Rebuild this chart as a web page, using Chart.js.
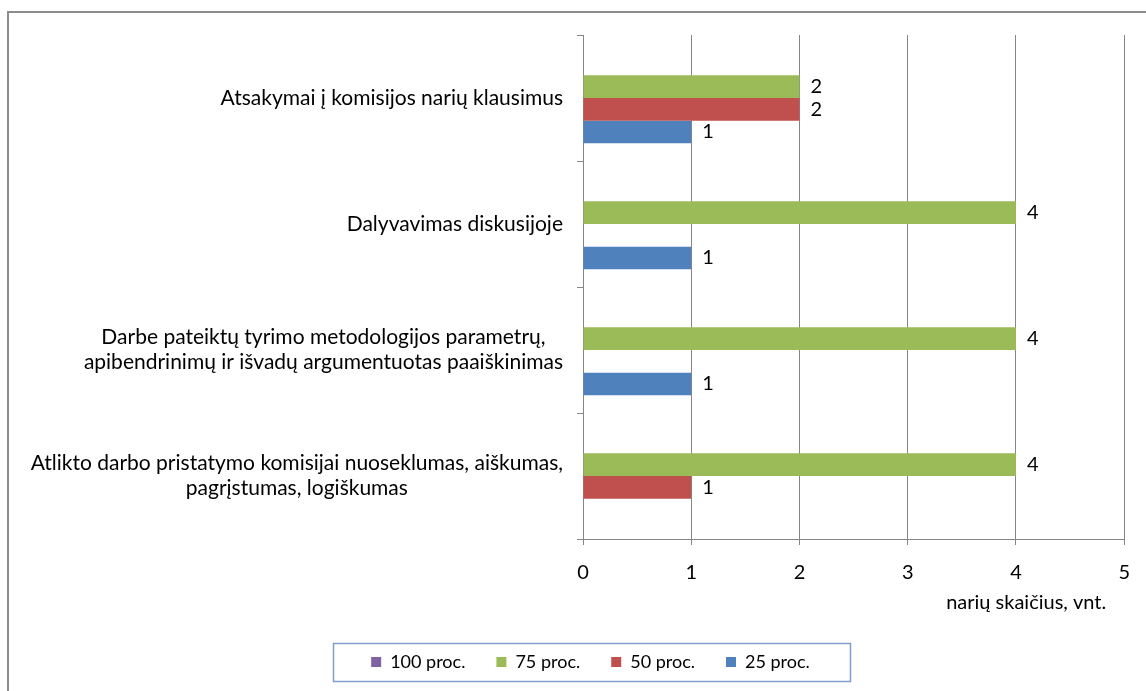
<!DOCTYPE html>
<html>
<head>
<meta charset="utf-8">
<script src="https://cdn.jsdelivr.net/npm/chart.js@4.4.0/dist/chart.umd.min.js"></script>
<style>
    html, body { margin: 0; padding: 0; background: #fff; overflow: hidden; }
    #wrap { position: relative; width: 1146px; height: 691px; }
    #remelis { position: absolute; left: 7px; top: 11px; width: 1300px; height: 900px; border-left: 2px solid #8c8c8c; border-top: 2px solid #8c8c8c; }
    canvas { position: absolute; left: 0; top: 0; }
</style>
</head>
<body>
<div id="wrap">
    <div id="remelis"></div>
    <canvas id="grafikas" width="1146" height="691"></canvas>
</div>
<script>
// Duomenys
const kategorijos = [
    ['Atsakymai į komisijos narių klausimus'],
    ['Dalyvavimas diskusijoje'],
    ['Darbe pateiktų tyrimo metodologijos parametrų,', 'apibendrinimų ir išvadų argumentuotas paaiškinimas'],
    ['Atlikto darbo pristatymo komisijai nuoseklumas, aiškumas,', 'pagrįstumas, logiškumas']
];
const proc100 = [null, null, null, null];
const proc75 = [2, 4, 4, 4];
const proc50 = [2, null, null, 1];
const proc25 = [1, 1, 1, null];
const serijuPavadinimai = ['100 proc.', '75 proc.', '50 proc.', '25 proc.'];
const asiesPavadinimas = 'narių skaičius, vnt.';

const SRIFTAS = 'Lato, "Open Sans", sans-serif';
const DYDIS = 20;
const spalvos = ['#8064A2', '#9BBB59', '#C0504D', '#4F81BD'];
const tinklelis = '#868686';

// Kategoriju pavadinimai (eilutes centruotos tarpusavyje, blokas lygiuotas desineje)
const kategorijuZymes = {
    id: 'kategorijuZymes',
    afterDraw(chart) {
        const ctx = chart.ctx;
        const y = chart.scales.y;
        ctx.save();
        ctx.font = '21px ' + SRIFTAS;
        ctx.fillStyle = '#000';
        ctx.textBaseline = 'middle';
        ctx.textAlign = 'center';
        const desine = chart.chartArea.left - 20;
        kategorijos.forEach((eil, i) => {
            const plotis = Math.max(...eil.map(t => ctx.measureText(t).width));
            const cx = desine - plotis / 2;
            const cy = y.getPixelForValue(i);
            eil.forEach((t, j) => ctx.fillText(t, cx, cy + (j - (eil.length - 1) / 2) * 25));
        });

        // asies pavadinimas
        ctx.font = DYDIS + 'px ' + SRIFTAS;
        ctx.textAlign = 'right';
        ctx.fillText(asiesPavadinimas, chart.chartArea.right - 18, chart.chartArea.bottom + 64);
        ctx.restore();
    }
};

// Reiksmes prie stulpeliu
const reiksmes = {
    id: 'reiksmes',
    afterDatasetsDraw(chart) {
        const ctx = chart.ctx;
        ctx.save();
        ctx.font = DYDIS + 'px ' + SRIFTAS;
        ctx.fillStyle = '#000';
        ctx.textBaseline = 'middle';
        ctx.textAlign = 'left';
        chart.data.datasets.forEach((ds, i) => {
            const meta = chart.getDatasetMeta(i);
            meta.data.forEach((bar, j) => {
                const v = ds.data[j];
                if (v == null) return;
                ctx.fillText(v, bar.x + 11, bar.y);
            });
        });
        ctx.restore();
    }
};

// Legendos remelis + poslinkis i desine
const legendosRemelis = {
    id: 'legendosRemelis',
    afterLayout(chart) {
        if (!chart.legend) return;
        chart.legend.left += 48;
        chart.legend.right += 0;
    },
    afterDraw(chart) {
        const lg = chart.legend;
        if (!lg || !lg.legendHitBoxes.length) return;
        const hb = lg.legendHitBoxes;
        const kaire = Math.min(...hb.map(h => h.left)) - 38;
        const desine = Math.max(...hb.map(h => h.left + h.width)) + 40;
        const cy = hb[0].top + hb[0].height / 2;
        const ctx = chart.ctx;
        ctx.save();
        ctx.strokeStyle = '#7F9FCF';
        ctx.lineWidth = 1.5;
        ctx.strokeRect(Math.round(kaire) + 0.5, Math.round(cy - 19) + 0.5, Math.round(desine - kaire), 38);
        ctx.restore();
    }
};

const rinkiniai = [proc100, proc75, proc50, proc25].map((d, i) => ({
    label: serijuPavadinimai[i],
    data: d,
    backgroundColor: spalvos[i],
    borderWidth: 0,
    barPercentage: 1,
    categoryPercentage: 0.72
}));

new Chart(document.getElementById('grafikas'), {
    type: 'bar',
    data: {
        labels: kategorijos.map(k => k.join(' ')),
        datasets: rinkiniai
    },
    options: {
        indexAxis: 'y',
        responsive: false,
        animation: false,
        layout: { padding: { left: 8, top: 35, right: 21, bottom: 10 } },
        scales: {
            x: {
                min: 0,
                max: 5,
                ticks: { stepSize: 1, color: '#000', font: { family: SRIFTAS, size: DYDIS }, padding: 16 },
                grid: { color: tinklelis, lineWidth: 1, tickLength: 6 },
                border: { color: tinklelis },
                afterFit(s) { s.height = 83; }
            },
            y: {
                ticks: { display: false },
                grid: { drawOnChartArea: false, drawTicks: true, tickLength: 6, color: tinklelis, offset: true },
                border: { color: tinklelis },
                afterFit(s) { s.width = 575; }
            }
        },
        plugins: {
            legend: {
                position: 'bottom',
                labels: {
                    boxWidth: 10,
                    boxHeight: 10,
                    padding: 31,
                    color: '#000',
                    font: { family: SRIFTAS, size: 18 }
                }
            },
            tooltip: { enabled: false }
        }
    },
    plugins: [kategorijuZymes, reiksmes, legendosRemelis]
});
</script>
</body>
</html>
